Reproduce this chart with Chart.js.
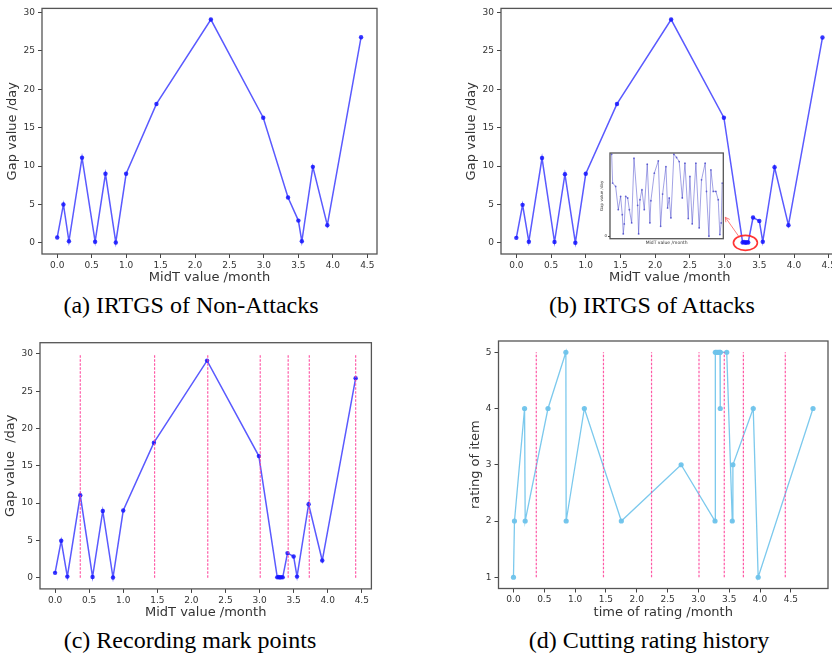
<!DOCTYPE html>
<html><head><meta charset="utf-8">
<script src="https://cdn.jsdelivr.net/npm/chart.js@4/dist/chart.umd.min.js"></script>
<style>
html,body{margin:0;padding:0;width:832px;height:656px;overflow:hidden;background:#fff;position:relative;}
canvas{position:absolute;}
.cap{position:absolute;font-family:"Liberation Serif","Times New Roman",serif;font-size:24px;line-height:26px;color:#000;white-space:nowrap;transform:translateX(-50%);}
</style></head><body>
<canvas id="ca" width="390" height="290" style="left:0;top:0"></canvas>
<canvas id="cb" width="392" height="290" style="left:460px;top:0"></canvas>
<canvas id="cin" width="132" height="100" style="left:596px;top:148px"></canvas>
<canvas id="cc" width="390" height="302" style="left:0;top:320px"></canvas>
<canvas id="cd" width="374" height="302" style="left:458px;top:320px"></canvas>
<div class="cap" style="left:191px;top:292px">(a) IRTGS of Non-Attacks</div>
<div class="cap" style="left:652px;top:292px">(b) IRTGS of Attacks</div>
<div class="cap" style="left:190px;top:627px">(c) Recording mark points</div>
<div class="cap" style="left:649px;top:627px">(d) Cutting rating history</div>
<script>
// ---------- data ----------
const gapX_a = [0.0,0.09,0.17,0.36,0.55,0.70,0.85,1.0,1.44,2.23,2.99,3.35,3.50,3.55,3.71,3.92,4.41];
const gapY_a = [0.7,5.0,0.2,11.1,0.15,9.0,0.05,9.0,18.1,29.1,16.3,5.9,2.9,0.2,9.9,2.3,26.8];

const gapX_bc = [0.0,0.09,0.18,0.37,0.55,0.70,0.85,1.0,1.45,2.23,2.99,3.26,3.28,3.30,3.32,3.34,3.41,3.50,3.55,3.72,3.92,4.41];
const gapY_bc = [0.65,4.95,0.15,11.05,0.1,8.95,0.02,9.0,18.1,29.1,16.3,0.05,0.1,0.02,0.08,0.05,3.3,2.85,0.15,9.85,2.3,26.75];

const markX = [0.37,1.46,2.24,3.01,3.42,3.73,4.41];

const rateX = [0.0,0.016,0.18,0.19,0.56,0.85,0.855,1.15,1.75,2.72,3.27,3.275,3.29,3.31,3.33,3.35,3.355,3.355,3.46,3.55,3.56,3.89,3.97,4.86];
const rateY = [1,2,4,2,4,5,2,4,2,3,2,5,5,5,5,5,4,5,5,2,3,4,1,4];

const insetX = [0,0.9,3.6,6.0,8.1,9.6,10.5,11.4,12.7,14.5,16.0,18.1,20.2,23.5,24.4,25.6,27.4,29.5,32.2,34.6,35.5,38.6,42.2,44.3,46.1,49.1,50.6,52.1,53.6,56.3,58.7,61.1,63.9,66.3,69.3,70.8,72.9,76.2,79.2,81.3,84.6,85.8,88.0,89.8,91.9,94.3,96.4,97.9,99.1,100];
const insetY = [10.0,6.48,6.07,3.24,4.86,2.63,0.28,1.50,4.86,4.66,3.24,1.62,9.51,3.77,0.28,4.45,5.67,3.24,8.79,1.62,4.33,7.69,9.19,1.21,5.14,8.50,3.44,4.66,2.23,10.0,9.60,9.11,4.66,8.91,2.15,7.29,1.50,8.91,1.01,6.88,8.91,5.47,0.0,8.10,5.47,5.47,4.45,0.20,1.62,6.48];

const highlightX = [3.26,3.34];

const gapTicks = [0,5,10,15,20,25,30];
const monthTicks = [0,0.5,1.0,1.5,2.0,2.5,3.0,3.5,4.0,4.5];
const rateTicks = [1,2,3,4,5];

// ---------- helpers ----------
const FONT = '"DejaVu Sans", sans-serif';
const pts = (xs, ys) => xs.map((x, i) => ({x: x, y: ys[i]}));

const framePlugin = {
  id: 'frame',
  afterDraw(chart, args, opts) {
    const a = chart.chartArea, ctx = chart.ctx;
    ctx.save();
    ctx.strokeStyle = opts.color || '#555';
    ctx.lineWidth = opts.width || 1.3;
    ctx.strokeRect(a.left, a.top, a.right - a.left, a.bottom - a.top);
    ctx.restore();
  }
};
const whitePlugin = {
  id: 'whitebg',
  beforeDraw(chart) {
    const ctx = chart.ctx, a = chart.chartArea;
    ctx.save(); ctx.fillStyle = '#fff';
    ctx.fillRect(a.left, a.top, a.right - a.left, a.bottom - a.top);
    ctx.restore();
  }
};

function xAxis(min, max, ticks, title, h, tb, opts) {
  opts = opts || {};
  return {
    type: 'linear', min: min, max: max,
    afterFit: s => { s.height = h; },
    afterBuildTicks: s => { s.ticks = ticks.map(v => ({value: v})); },
    ticks: {display: opts.noLabels ? false : true, font: {family: FONT, size: opts.tickSize || 9}, color: '#333', padding: 2,
            maxRotation: 0, autoSkip: false, callback: v => Number(v).toFixed(1)},
    grid: {display: true, drawOnChartArea: false, drawTicks: true, tickLength: opts.tickLen || 4, color: '#444', lineWidth: 1},
    border: {display: false},
    title: {display: true, text: title, font: {family: FONT, size: opts.titleSize || 13}, color: '#333', padding: {top: 0, bottom: tb}}
  };
}
function yAxis(min, max, ticks, title, w, tp, opts) {
  opts = opts || {};
  return {
    type: 'linear', min: min, max: max,
    afterFit: s => { s.width = w; },
    afterBuildTicks: s => { s.ticks = ticks.map(v => ({value: v})); },
    ticks: {font: {family: FONT, size: opts.tickSize || 9}, color: '#333', padding: opts.pad || 3, autoSkip: false,
            callback: v => String(v)},
    grid: {display: true, drawOnChartArea: false, drawTicks: true, tickLength: opts.tickLen || 4, color: '#444', lineWidth: 1},
    border: {display: false},
    title: {display: true, text: title, font: {family: FONT, size: opts.titleSize || 13}, color: '#333', padding: {top: tp, bottom: 0}}
  };
}

const blueLine = (data) => ({
  data: data, borderColor: 'rgba(20,20,255,0.7)', borderWidth: 1.5,
  pointRadius: 2.2, pointBackgroundColor: 'rgba(20,20,255,0.85)', pointBorderWidth: 0,
  tension: 0, order: 2
});
const markLines = (y0, y1) => markX.map(x => ({
  data: [{x: x, y: y0}, {x: x, y: y1}], borderColor: 'rgba(255,60,150,0.85)', borderWidth: 1.2,
  borderDash: [2.5, 1.5], pointRadius: 0, tension: 0, order: 1
}));

function make(id, datasets, scales, padding, extraPlugins) {
  return new Chart(document.getElementById(id), {
    type: 'line',
    data: {datasets: datasets},
    options: {
      responsive: false, animation: false, parsing: false,
      layout: {padding: padding},
      plugins: {legend: {display: false}, tooltip: {enabled: false}, frame: {}},
      scales: scales
    },
    plugins: [framePlugin].concat(extraPlugins || [])
  });
}

// ---------- (a) ----------
make('ca', [blueLine(pts(gapX_a, gapY_a))], {
  x: xAxis(-0.221, 4.641, monthTicks, 'MidT value /month', 36, 4.2),
  y: yAxis(-1.455, 30.55, gapTicks, 'Gap value /day', 42, 4.5)
}, {left: 0, top: 7, right: 13, bottom: 0});

// ---------- inset ----------
const inset = make('cin', [{
  data: pts(insetX, insetY), borderColor: 'rgba(60,60,200,0.6)', borderWidth: 0.8,
  pointRadius: 0.9, pointBackgroundColor: 'rgba(60,60,200,0.7)', pointBorderWidth: 0, tension: 0
}], {
  x: xAxis(-1.5, 101, [], 'MidT value /month', 9.3, 2.3, {noLabels: true, titleSize: 4.5, tickLen: 0}),
  y: yAxis(-0.3, 10.15, [0], 'Gap value /day', 14, 3.6, {tickSize: 4, titleSize: 4, tickLen: 2, pad: 1})
}, {left: 0, top: 5, right: 4.7, bottom: 0}, [whitePlugin]);

// ---------- (b) ----------
const highlightPlugin = {
  id: 'highlight',
  afterDatasetsDraw(chart) {
    const xs = chart.scales.x, ys = chart.scales.y, ctx = chart.ctx;
    const cx = (xs.getPixelForValue(highlightX[0]) + xs.getPixelForValue(highlightX[1])) / 2;
    const cy = ys.getPixelForValue(0);
    const rx = 12, ry = 7.5;
    ctx.save();
    ctx.strokeStyle = 'rgba(255,30,30,0.9)'; ctx.lineWidth = 1.6;
    ctx.beginPath(); ctx.ellipse(cx, cy, rx, ry, 0, 0, Math.PI * 2); ctx.stroke();
    // arrow to the inset
    const ia = inset.chartArea;
    const cvB = chart.canvas.getBoundingClientRect(), cvI = inset.canvas.getBoundingClientRect();
    const ex = cvI.left - cvB.left + ia.right + 2;
    const ey = cvI.top - cvB.top + ia.top + (ia.bottom - ia.top) * 0.75;
    const sx = cx - rx * 0.55, sy = cy - ry * 0.85;
    ctx.strokeStyle = 'rgba(255,90,90,0.8)'; ctx.lineWidth = 1;
    ctx.beginPath(); ctx.moveTo(sx, sy); ctx.lineTo(ex, ey); ctx.stroke();
    const ang = Math.atan2(ey - sy, ex - sx), L = 5;
    ctx.beginPath();
    ctx.moveTo(ex - L * Math.cos(ang - 0.5), ey - L * Math.sin(ang - 0.5));
    ctx.lineTo(ex, ey);
    ctx.lineTo(ex - L * Math.cos(ang + 0.5), ey - L * Math.sin(ang + 0.5));
    ctx.stroke();
    ctx.restore();
  }
};
make('cb', [blueLine(pts(gapX_bc, gapY_bc))], {
  x: xAxis(-0.221, 4.641, monthTicks, 'MidT value /month', 36, 4.2),
  y: yAxis(-1.455, 30.55, gapTicks, 'Gap value /day', 41, 3.8)
}, {left: 0, top: 5, right: 13.5, bottom: 0}, [highlightPlugin]);

// ---------- (c) ----------
make('cc', markLines(0, 30).concat([blueLine(pts(gapX_bc, gapY_bc))]), {
  x: xAxis(-0.221, 4.641, monthTicks, 'MidT value /month', 33.1, 1.5),
  y: yAxis(-1.5, 31.5, gapTicks, 'Gap value  /day', 40, 2.8)
}, {left: 0, top: 22.7, right: 18.6, bottom: 0});

// ---------- (d) ----------
make('cd', markLines(1, 5).concat([{
  data: pts(rateX, rateY), borderColor: 'rgba(110,195,235,0.9)', borderWidth: 1.3,
  pointRadius: 2.6, pointBackgroundColor: 'rgba(110,195,235,0.95)', pointBorderWidth: 0, tension: 0, order: 2
}]), {
  x: xAxis(-0.243, 5.103, monthTicks, 'time of rating /month', 33.5, 1.5),
  y: yAxis(0.8, 5.2, rateTicks, 'rating of item', 40.5, 9.8)
}, {left: 0, top: 21, right: 0.6, bottom: 0});
</script>
</body></html>
